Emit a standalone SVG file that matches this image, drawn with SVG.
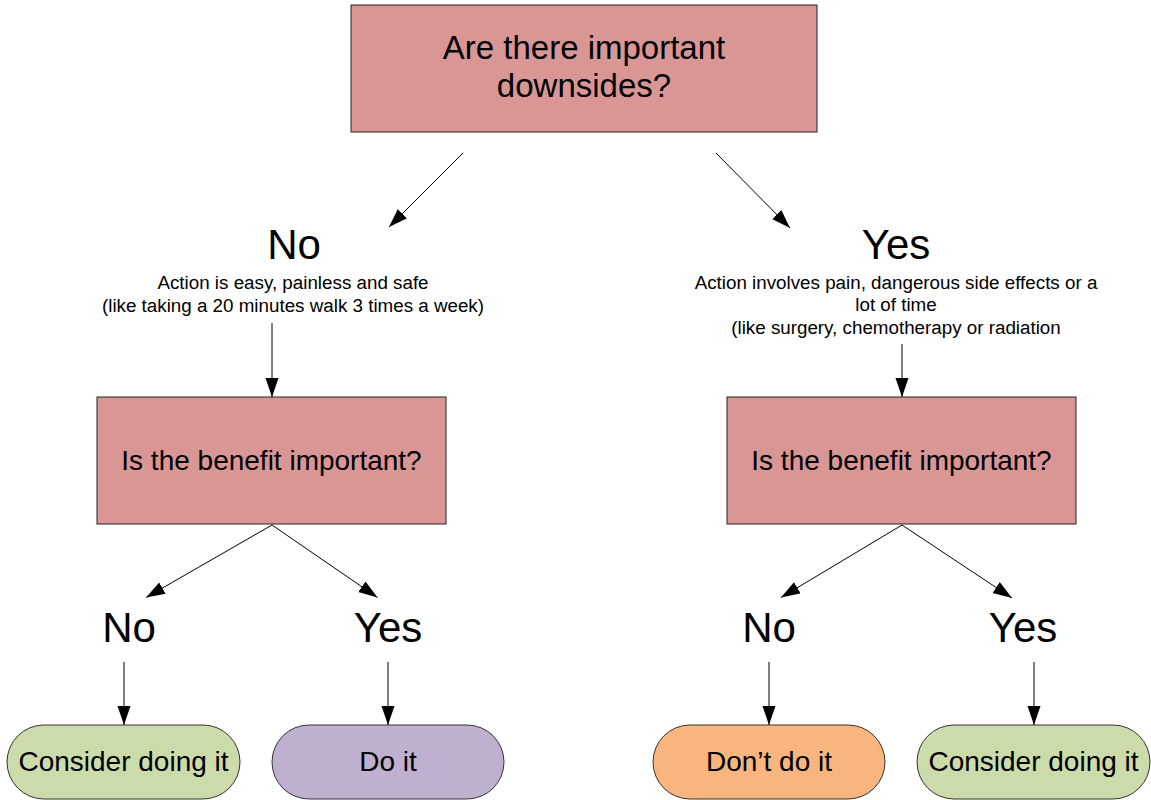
<svg xmlns="http://www.w3.org/2000/svg" width="1151" height="800" viewBox="0 0 1151 800">
<style>
text{font-family:"Liberation Sans",Arial,sans-serif;fill:#000;text-anchor:middle}
.box{fill:#D99694;stroke:#222;stroke-width:1}
.pill{stroke:#333;stroke-width:1}
.t33{font-size:33px}
.t28{font-size:28px}
.t42{font-size:42px}
.t19{font-size:18.8px}
.c{stroke:#000;stroke-width:1;fill:none;marker-end:url(#ah)}
</style>
<defs>
<marker id="ah" markerUnits="userSpaceOnUse" markerWidth="20" markerHeight="14" refX="19" refY="6.5" orient="auto">
<path d="M0,0 L19,6.5 L0,13 z" fill="#000"/>
</marker>
</defs>
<rect width="1151" height="800" fill="#fff"/>
<g id="q1">
<rect class="box" x="351" y="5" width="466" height="127"/>
<text class="t33" x="584" y="59">Are there important</text>
<text class="t33" x="584" y="97">downsides?</text>
</g>
<g id="no1">
<text class="t42" x="294" y="259">No</text>
<text class="t19" x="293" y="289">Action is easy, painless and safe</text>
<text class="t19" x="293" y="312">(like taking a 20 minutes walk 3 times a week)</text>
</g>
<g id="yes1">
<text class="t42" x="896" y="259">Yes</text>
<text class="t19" x="896" y="289">Action involves pain, dangerous side effects or a</text>
<text class="t19" x="896" y="311">lot of time</text>
<text class="t19" x="896" y="334">(like surgery, chemotherapy or radiation</text>
</g>
<g id="q2l">
<rect class="box" x="97" y="397" width="349" height="127"/>
<text class="t28" x="271.5" y="470">Is the benefit important?</text>
</g>
<g id="q2r">
<rect class="box" x="727" y="397" width="349" height="127"/>
<text class="t28" x="901.5" y="470">Is the benefit important?</text>
</g>
<g id="no2l"><text class="t42" x="129" y="642">No</text></g>
<g id="yes2l"><text class="t42" x="388" y="642">Yes</text></g>
<g id="no2r"><text class="t42" x="769" y="642">No</text></g>
<g id="yes2r"><text class="t42" x="1023" y="642">Yes</text></g>
<g id="r1">
<rect class="pill" x="7" y="725" width="233" height="74" rx="37" fill="#CCDBAA"/>
<text class="t28" x="123.5" y="771">Consider doing it</text>
</g>
<g id="r2">
<rect class="pill" x="272" y="725" width="232" height="74" rx="37" fill="#C0B0D0"/>
<text class="t28" x="388" y="771">Do it</text>
</g>
<g id="r3">
<rect class="pill" x="653" y="725" width="232" height="74" rx="37" fill="#F8B67E"/>
<text class="t28" x="769" y="771">Don’t do it</text>
</g>
<g id="r4">
<rect class="pill" x="917" y="725" width="233" height="74" rx="37" fill="#CCDBAA"/>
<text class="t28" x="1033.5" y="771">Consider doing it</text>
</g>
<g id="connectors">
<line class="c" x1="463" y1="153" x2="389" y2="227"/>
<line class="c" x1="716" y1="153" x2="790" y2="228"/>
<line class="c" x1="272" y1="323" x2="272" y2="397"/>
<line class="c" x1="902" y1="344" x2="902" y2="397"/>
<line class="c" x1="272" y1="525" x2="146" y2="597.5"/>
<line class="c" x1="272" y1="525" x2="377.5" y2="597.5"/>
<line class="c" x1="902" y1="525" x2="781" y2="597.5"/>
<line class="c" x1="902" y1="525" x2="1012" y2="598"/>
<line class="c" x1="124" y1="662" x2="124" y2="725"/>
<line class="c" x1="388" y1="662" x2="388" y2="725"/>
<line class="c" x1="769" y1="662" x2="769" y2="725"/>
<line class="c" x1="1034" y1="662" x2="1034" y2="725"/>
</g>
</svg>
